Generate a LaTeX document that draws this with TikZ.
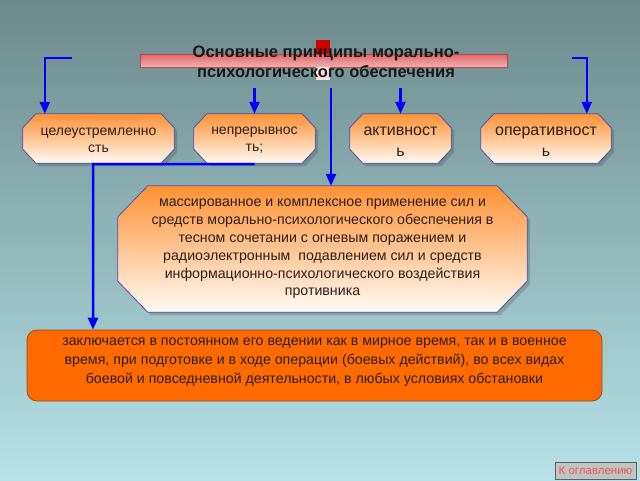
\documentclass[tikz,border=0pt]{standalone}
\usepackage{fontspec}
\setmainfont{Liberation Sans}
\usetikzlibrary{calc,arrows.meta}
\pgfdeclarelayer{back}\pgfdeclarelayer{mid}\pgfsetlayers{back,mid,main}
\definecolor{bgtop}{RGB}{108,137,139}
\definecolor{bgbot}{RGB}{182,226,232}
\definecolor{orangetop}{RGB}{255,145,52}
\definecolor{orangebot}{RGB}{255,250,244}
\definecolor{boxborder}{RGB}{80,80,165}
\definecolor{botfill}{RGB}{255,106,0}
\definecolor{botborder}{RGB}{140,80,40}
\definecolor{txt}{RGB}{45,32,25}
\definecolor{conncol}{RGB}{0,0,255}
\definecolor{bartop}{RGB}{235,100,100}
\definecolor{barbot}{RGB}{255,180,180}
\definecolor{barborder}{RGB}{190,60,60}
\definecolor{redsq}{RGB}{205,0,0}
\definecolor{btnfill}{RGB}{192,196,196}
\definecolor{btnborder}{RGB}{95,95,95}
\definecolor{btntext}{RGB}{232,85,85}
\newcommand\octbox[4]{\path[#4] ($(#1.north west)+(#2,0)$) -- ($(#1.north east)+(-#2,0)$) -- ($(#1.north east)+(0,#3)$) -- ($(#1.south east)+(0,-#3)$) -- ($(#1.south east)+(-#2,0)$) -- ($(#1.south west)+(#2,0)$) -- ($(#1.south west)+(0,-#3)$) -- ($(#1.north west)+(0,#3)$) -- cycle;}
\begin{document}
\begin{tikzpicture}[x=1pt,y=-1pt,
  smallbox/.style={inner sep=0pt, minimum height=49pt},
  smalltxt/.style={inner sep=0pt, align=center, text=txt,
    font=\fontsize{14pt}{17pt}\selectfont},
  smalltxtb/.style={inner sep=0pt, align=center, text=txt,
    font=\fontsize{16pt}{21pt}\selectfont},
  bigtxt/.style={inner sep=0pt, align=center, text=txt, minimum width=409pt, minimum height=126pt,
    font=\fontsize{14.2pt}{17.8pt}\selectfont},
  botbox/.style={draw=botborder, line width=.8pt, fill=botfill, rounded corners=10pt,
    minimum width=575pt, minimum height=71pt, inner sep=0pt},
  bottxt/.style={inner sep=0pt, align=center, text=txt, font=\fontsize{14.2pt}{19pt}\selectfont},
  octfill/.style={top color=orangetop, bottom color=orangebot, draw=boxborder, line width=.8pt},
  octshadow/.style={fill=black, opacity=.16, transform canvas={shift={(3,3)}}},
  conn/.style={draw=conncol, line width=2.5pt},
  arr/.style={conn, -{Triangle[length=12pt,width=10pt]}},
  titletxt/.style={inner sep=0pt, align=center, text=black!90,
    font=\fontsize{16.5pt}{20pt}\selectfont\bfseries},
  button/.style={draw=btnborder, fill=btnfill, line width=.8pt, minimum width=81pt, minimum height=17pt,
    inner sep=0pt, text=btntext, font=\fontsize{11.5pt}{12pt}\selectfont}
]
\useasboundingbox (0,0) rectangle (640,480);
\begin{pgfonlayer}{back}
  \shade[top color=bgtop, bottom color=bgbot] (0,0) rectangle (640,480);
\end{pgfonlayer}

% title
\node[titletxt] (title) at (326,62) {Основные принципы морально-\\психологического обеспечения};
\begin{pgfonlayer}{mid}
  \path[top color=bartop, bottom color=barbot, draw=barborder, line width=.6pt, opacity=.9] (140,54) rectangle (507,67);
  \fill[redsq] (316,40) rectangle (330,54);
  \fill[white!88!red] (316,67) rectangle (330,80);
\end{pgfonlayer}

% small boxes
\node[smallbox, minimum width=151pt] (b1) at (98.5,138.5) {};
\node[smallbox, minimum width=121pt] (b2) at (254.5,138.5) {};
\node[smallbox, minimum width=101pt] (b3) at (400.5,138.5) {};
\node[smallbox, minimum width=130pt] (b4) at (546,138.5) {};
\node[smalltxt] (b1t) at ($(b1.center)+(0,2)$) {целеустремленно\\сть};
\node[smalltxt] (b2t) at ($(b2.center)+(0,2)$) {непрерывнос\\ть;};
\node[smalltxtb] (b3t) at ($(b3.center)+(0,3)$) {активност\\ь};
\node[smalltxtb] (b4t) at ($(b4.center)+(0,3)$) {оперативност\\ь};
\node[bigtxt] (big) at (322.5,249) {массированное и комплексное применение сил и\\средств морально-психологического обеспечения в\\тесном сочетании с огневым поражением и\\радиоэлектронным \ подавлением сил и средств\\информационно-психологического воздействия\\противника};

\begin{pgfonlayer}{mid}
  \foreach \n in {b1,b2,b3,b4}{\octbox{\n}{13}{14}{octshadow}}
  \foreach \n in {b1,b2,b3,b4}{\octbox{\n}{13}{14}{octfill}}
  \octbox{big}{30}{31}{octshadow}
  \octbox{big}{30}{31}{octfill}
\end{pgfonlayer}

% bottom box
\node[botbox] (bot) at (314.5,365.5) {};
\node[bottxt] (bottext) at ($(bot.center)+(0,-3)$) {заключается в постоянном его ведении как в мирное время, так и в военное\\время, при подготовке и в ходе операции (боевых действий), во всех видах\\боевой и повседневной деятельности, в любых условиях обстановки};

% connectors
\coordinate (tl) at (72,58);
\coordinate (tr) at (572,58);
\coordinate (t2) at (254.5,88);
\coordinate (t3) at (400.5,88);
\coordinate (tc) at (331,88);
\coordinate (turn) at (93,164);
\draw[arr] (tl) -| ($(b1.north west)+(22,0)$);
\draw[arr] (tr) -| ($(b4.north west)+(106,0)$);
\draw[arr] (t2) -- (b2.north);
\draw[arr] (t3) -- (b3.north);
\draw[arr] (tc) -- (tc |- big.north);
\draw[arr] (b2.south) ++(0,1) -- (turn) -- (turn |- bot.north);

% button
\node[button] (toc) at (595.5,470.5) {К оглавлению};
\end{tikzpicture}
\end{document}
